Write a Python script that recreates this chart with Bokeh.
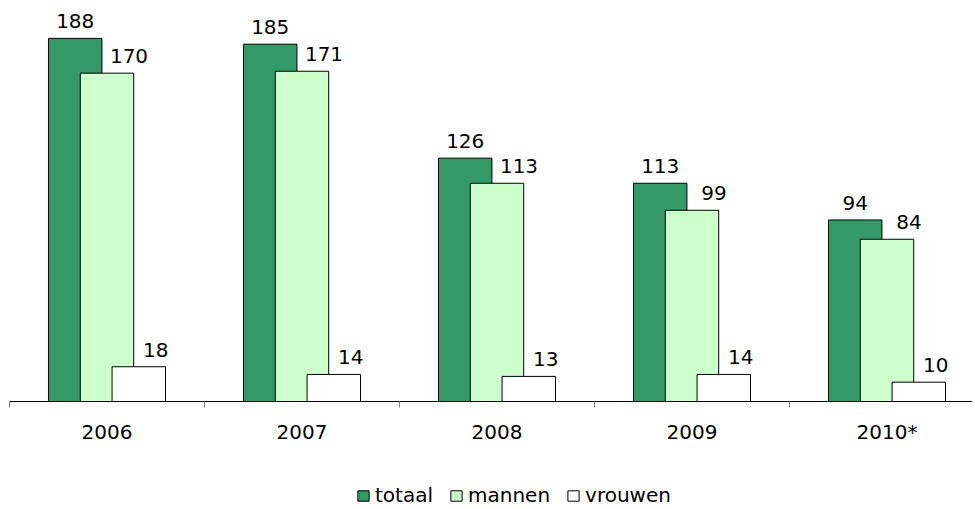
import numpy as np
from bokeh.plotting import figure
from bokeh.layouts import column
from bokeh.models import Range1d, FixedTicker, Legend, LegendItem, ColumnDataSource
from bokeh.core.properties import value
from bokeh.embed import file_html
from bokeh.resources import INLINE

years = ["2006", "2007", "2008", "2009", "2010*"]
totaal = [188, 185, 126, 113, 94]
mannen = [170, 171, 113, 99, 84]
vrouwen = [18, 14, 13, 14, 10]
series_names = ["totaal", "mannen", "vrouwen"]

FONT = "DejaVu Sans"
C_TOT = "#339966"
C_MAN = "#CCFFCC"
C_VRO = "#FFFFFF"

centers = np.arange(len(years)) + 0.5
off = 0.163
bw = 0.274

W = 972
BL, BT, BB = 9, 7, 60
H = BT + 394 + BB
p = figure(width=W, height=H, output_backend="svg", toolbar_location=None,
           x_range=Range1d(0, (W - BL) / 195), y_range=Range1d(0, 204.0),
           min_border_left=BL, min_border_right=0, min_border_top=BT, min_border_bottom=BB)
p.outline_line_color = None
p.xgrid.visible = False
p.ygrid.visible = False
p.yaxis.visible = False

series = [(series_names[0], totaal, -off, C_TOT, 0),
          (series_names[1], mannen, 0.0, C_MAN, 22),
          (series_names[2], vrouwen, off, C_VRO, 17)]
for name, vals, o, col, lx in series:
    src = ColumnDataSource(dict(x=centers + o, top=vals, lab=[str(v) for v in vals]))
    p.vbar(x="x", top="top", bottom=0, width=bw, source=src,
           fill_color=col, line_color="black", line_width=1)
    p.text(x="x", y="top", text="lab", source=src, x_offset=lx, y_offset=-17,
           text_align="center", text_baseline="alphabetic",
           text_font=value(FONT), text_font_size="20px", text_color="black")

ax = p.xaxis[0]
ax.ticker = FixedTicker(ticks=list(centers), minor_ticks=list(range(len(years) + 1)))
ax.major_label_overrides = {float(c): y for c, y in zip(centers, years)}
ax.major_tick_line_color = None
ax.major_tick_out = 0
ax.major_tick_in = 0
ax.minor_tick_out = 6
ax.minor_tick_in = 0
ax.minor_tick_line_color = "#808080"
ax.axis_line_color = "black"
ax.axis_line_width = 1
ax.major_label_standoff = 12
ax.major_label_text_font = FONT
ax.major_label_text_font_size = "20px"
ax.major_label_text_color = "black"

# legend strip
H2 = 508 - 1 - H
p2 = figure(width=W, height=H2, output_backend="svg", toolbar_location=None,
            x_range=Range1d(0, 1), y_range=Range1d(0, 1),
            min_border_left=0, min_border_right=0, min_border_top=0, min_border_bottom=0)
p2.outline_line_color = None
p2.xaxis.visible = False
p2.yaxis.visible = False
p2.xgrid.visible = False
p2.ygrid.visible = False
items = []
for name, col in zip(series_names, [C_TOT, C_MAN, C_VRO]):
    # the point lies outside the strip's ranges: only its legend swatch shows
    r = p2.vbar(x=[5], top=[5], bottom=[4], width=0.1,
                fill_color=col, line_color="black", line_width=1)
    items.append(LegendItem(label=name, renderers=[r]))
legend = Legend(items=items, orientation="horizontal", location=(347, 0),
                glyph_width=14, glyph_height=13, label_standoff=5, spacing=16,
                padding=0, margin=0, border_line_color=None, background_fill_alpha=0,
                label_text_font=FONT, label_text_font_size="20px", label_text_color="black",
                label_height=13)
p2.add_layout(legend, "center")

layout = column(p, p2)
open("out.html", "w").write(file_html(layout, INLINE))
